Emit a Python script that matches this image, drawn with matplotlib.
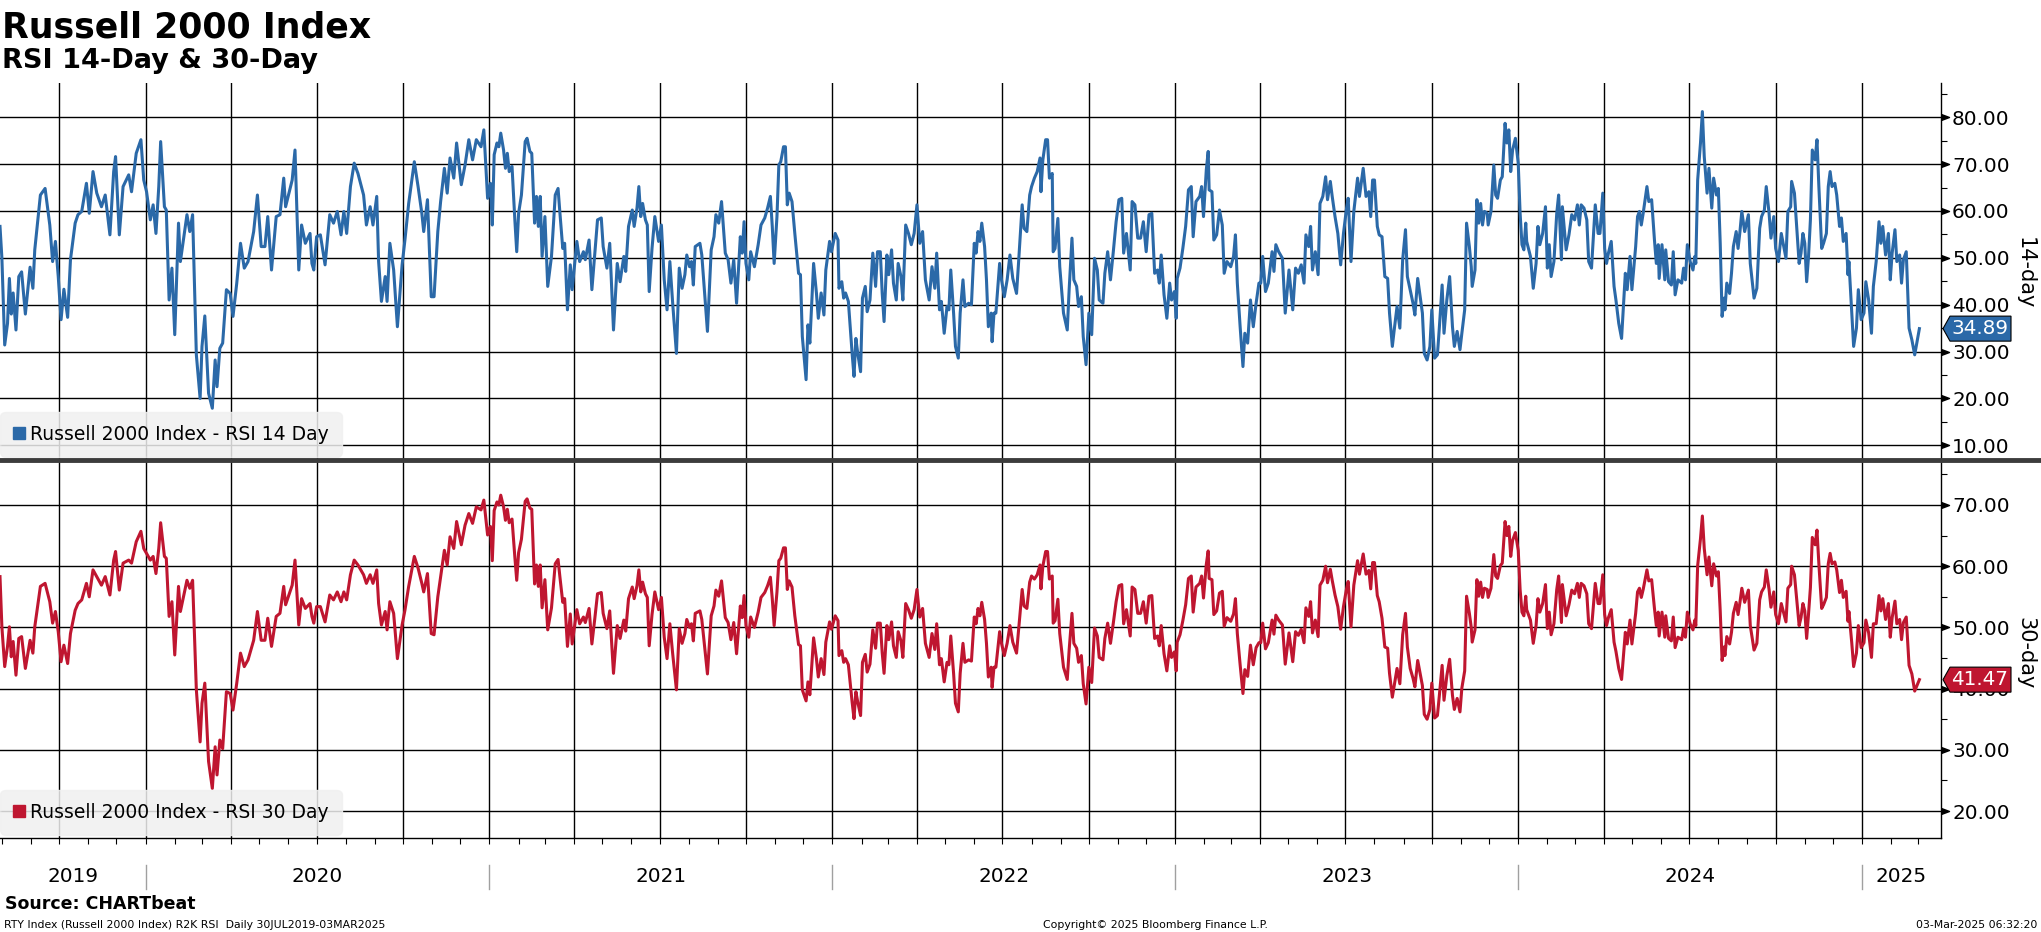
#!/usr/bin/env python3

import matplotlib
matplotlib.use("Agg")
from matplotlib import pyplot as plt
from matplotlib import dates as mdates
from matplotlib import transforms as mtrans
from matplotlib.lines import Line2D
from matplotlib.patches import Polygon
from matplotlib.ticker import MultipleLocator
import pandas as pd


W, H = 2041, 932
BLUE = "#2b69a8"
RED = "#bf1630"
START = pd.Timestamp("2019-07-30")

# (calendar days after START, RSI value)
rsi14_a = [(0, 56.7), (2, 50), (5, 31.4), (8, 36), (10, 45.6), (12, 38), (14, 42.5), (17, 34.6), (20, 46), (23, 47),
           (27, 38), (32, 48), (35, 43.5), (37, 51.7), (43, 63.4), (48, 64.8), (53, 57), (56, 49.2), (59, 53.5),
           (62, 46), (65, 36.8), (68, 43.3), (72, 37.3), (75, 49.6), (80, 57.4), (83, 59.2), (87, 59.9), (92, 65.9),
           (95, 59.5), (99, 68.4), (103, 63.8), (108, 60.9), (112, 63.4), (117, 54.9), (121, 68.4), (123, 71.6),
           (127, 54.9), (131, 65.2), (137, 67.7), (140, 64.1), (145, 72.3), (150, 75.2), (153, 66.6), (156, 64.1),
           (160, 58.1), (163, 61.3), (166, 55.2), (169, 65.2), (171, 74.8), (175, 60.9), (177, 60.2), (180, 41),
           (183, 47.8), (186, 33.6), (190, 57.4), (192, 49.2), (199, 59.2), (202, 55.6), (205, 59.2), (209, 29.3),
           (213, 20), (215, 31.1), (218, 37.6), (222, 21.1), (226, 17.9), (229, 28.2), (231, 22.5), (234, 30.7),
           (237, 31.8), (241, 43.2), (245, 42.4), (248, 37.5), (252, 44.6), (256, 53.1), (260, 47.8), (264, 49.2),
           (270, 55.6), (274, 63.4), (278, 52.4), (282, 52.4), (285, 58.8), (289, 47.4), (294, 58.8), (298, 59.2),
           (302, 67), (304, 60.9), (311, 66.6), (314, 73), (318, 47.4), (321, 57), (325, 53.1), (330, 55.2),
           (332, 48.8), (334, 47.4), (337, 54.5), (341, 54.9), (346, 48.5), (351, 59.2), (355, 57.4), (359, 59.9),
           (363, 54.9), (366, 59.9), (369, 55.2), (373, 65.2), (377, 70.2), (381, 68), (387, 63.4), (390, 57),
           (394, 60.9), (397, 57), (401, 63.1), (403, 49.2), (406, 40.7), (410, 46), (412, 40.7), (415, 53.1),
           (419, 47.4), (423, 35.3), (428, 48.5), (431, 53.8), (435, 61.6), (441, 70.5), (445, 65.2), (449, 59.5),
           (451, 55.6), (455, 62.4), (459, 41.7), (462, 41.7), (466, 55.6), (469, 62), (473, 69.1), (476, 63.8),
           (479, 71.3), (483, 67), (486, 74.5), (491, 65.6), (495, 69.8), (499, 75.2), (503, 70.9), (507, 75.2),
           (512, 73.7), (515, 77.3), (519, 62.7), (522, 65.9)]
rsi14_b = [(524, 57), (526, 72), (529, 74.5), (531, 73.7), (533, 76.6), (536, 73), (538, 69.1), (540, 72.3),
           (542, 68.4), (545, 69.5), (548, 58.1), (550, 51.3), (552, 59.5), (555, 63.4), (559, 74.8), (561, 75.5),
           (564, 72.7), (566, 72.3), (569, 57.4), (571, 63.1), (573, 56.7), (575, 63.1), (577, 50.3), (580, 58.8),
           (583, 43.9), (587, 50.3), (591, 63.4), (594, 64.8), (596, 59.5), (599, 52), (601, 53.1), (604, 38.9),
           (607, 48.5), (609, 43.2), (614, 53.5), (617, 49.2), (621, 51.3), (623, 49.6), (627, 53.8), (630, 43.2),
           (633, 50.6), (636, 58.1), (640, 58.5), (642, 52.4), (646, 47.8), (649, 53.1), (651, 43.9), (653, 34.6),
           (657, 48.8), (660, 44.9), (664, 50.3), (666, 47.1), (669, 56.7), (673, 60.2), (675, 56.7), (678, 60.6),
           (680, 65.2), (682, 58.8), (684, 61.6), (687, 58.1), (689, 57), (691, 42.8), (694, 52), (697, 58.8),
           (701, 53.5), (704, 57), (707, 45.3), (710, 38.9), (713, 49.2), (716, 40.3), (720, 29.6), (723, 47.8),
           (726, 43.5), (729, 46.4), (731, 50.6), (734, 48.1), (736, 49.2), (738, 44.2), (740, 52.4), (745, 53.1),
           (747, 50.6), (751, 39.6), (753, 34.3), (757, 51.7), (760, 54.5), (762, 59.2), (765, 57.4), (768, 62),
           (772, 51), (775, 49.6), (778, 44.6), (781, 49.6), (784, 40.3), (788, 54.5), (790, 51), (792, 57.7),
           (794, 48.8), (797, 45.3), (799, 51.3), (803, 48.1), (807, 52.8), (810, 57), (814, 58.5), (817, 60.6),
           (820, 63.1), (822, 56.7), (824, 48.8), (827, 58.8), (829, 69.8), (831, 70.5), (834, 73.7), (836, 73.7),
           (838, 61.3), (840, 63.8), (843, 62), (846, 55.2), (850, 46.7), (852, 46.4), (854, 33.2), (858, 24),
           (860, 35.7), (862, 31.8), (866, 48.8), (869, 42.5), (871, 37.1), (874, 42.5), (877, 37.8), (879, 47.4),
           (883, 53.5), (885, 51.3), (889, 55.2), (892, 53.8), (893, 43.5), (896, 44.9), (898, 41.4), (900, 42.5),
           (903, 40.7), (907, 29.6), (909, 24.7), (911, 32.8), (913, 29.6), (916, 25.7), (918, 41.4), (921, 43.9),
           (923, 38.5), (926, 41), (929, 51), (932, 43.9), (934, 51.3), (937, 51.3), (939, 42.5), (941, 36.4),
           (944, 50.6), (946, 46.4), (949, 51.7), (951, 44.6), (954, 41), (956, 48.8), (959, 46), (961, 41),
           (964, 57), (967, 55.2), (970, 52.8), (973, 55.2), (976, 61.3), (979, 53.1), (982, 55.6), (985, 45.3),
           (989, 41), (992, 48.1), (995, 43.5), (997, 51), (1000, 38.9), (1002, 40.7), (1005, 33.9), (1008, 39.6),
           (1010, 38.9), (1012, 47.4), (1015, 38.2), (1017, 31.1), (1020, 28.6), (1022, 38.2), (1025, 45.3),
           (1027, 39.6), (1031, 40.3), (1034, 40), (1037, 53.1)]
rsi14_c = [(1039, 51), (1041, 55.6), (1043, 53.5), (1045, 57.4), (1048, 52.4), (1050, 45.3), (1052, 35.3),
           (1055, 38.2), (1056, 32.1), (1058, 38.2), (1060, 38.2), (1064, 48.8), (1066, 45.3), (1069, 41.7),
           (1072, 45.3), (1075, 50.6), (1078, 45.6), (1082, 42.4), (1084, 48.5), (1088, 61.3), (1090, 56.3),
           (1093, 55.6), (1096, 63.4), (1098, 65.2), (1101, 67), (1104, 68.4), (1107, 71.3), (1108, 64.1),
           (1110, 70.9), (1113, 75.2), (1115, 75.2), (1117, 67), (1120, 68), (1121, 51.3), (1123, 52), (1126, 58.4),
           (1128, 48.1), (1132, 38.2), (1136, 34.6), (1138, 43.2), (1141, 54.2), (1143, 45.3), (1146, 43.9),
           (1148, 39.6), (1151, 41.7), (1153, 33.2), (1156, 27.2), (1159, 38.2), (1162, 33.6), (1165, 49.9),
           (1168, 47.4), (1170, 41), (1174, 40.3), (1176, 46.7), (1179, 51.3), (1182, 45.3), (1185, 51.3),
           (1188, 57.7), (1191, 62.4), (1194, 62.7), (1196, 51), (1199, 55.2), (1201, 51.3), (1203, 47.4),
           (1205, 62), (1208, 61.3), (1211, 54.2), (1214, 54.2), (1217, 57.7), (1220, 51.3), (1223, 59.2),
           (1226, 59.5), (1229, 46.7), (1232, 47.4), (1234, 44.6), (1236, 50.6), (1239, 42.1), (1242, 37.1),
           (1245, 44.6), (1247, 41), (1250, 42.8), (1252, 37.1), (1253, 45.6), (1256, 47.8), (1259, 52),
           (1262, 56.7), (1265, 64.5), (1268, 65.2), (1270, 54.5), (1273, 62), (1277, 63.1), (1279, 65.2),
           (1281, 58.8), (1284, 68.8), (1286, 72.7), (1287, 64.5), (1290, 64.1), (1292, 53.8), (1295, 54.9),
           (1298, 60.2), (1301, 57), (1303, 46.7), (1306, 49.2), (1310, 48.1), (1313, 50.3), (1315, 54.9),
           (1317, 44.6), (1320, 35.3), (1323, 26.8), (1325, 33.9), (1328, 31.8), (1331, 41), (1334, 35.3),
           (1337, 40.3), (1340, 44.6), (1342, 44.6), (1344, 50.3), (1347, 42.8), (1350, 44.6), (1354, 51.3),
           (1356, 47.1), (1358, 52.8), (1361, 51.3), (1365, 49.9), (1368, 38.2), (1372, 47.4), (1376, 38.9),
           (1379, 47.8), (1382, 46.7), (1385, 48.5), (1388, 44.6), (1390, 54.9), (1393, 52.4), (1395, 56.7),
           (1397, 47.4), (1400, 51.3), (1403, 46.4), (1405, 61.6), (1408, 63.1), (1411, 67.3), (1413, 62.4),
           (1416, 66.3), (1418, 63.1), (1421, 58.8), (1424, 55.2), (1427, 48.5), (1430, 55.2), (1433, 60.2),
           (1435, 62.7), (1438, 49.2), (1441, 59.9), (1445, 67), (1447, 63.1), (1451, 69.1), (1454, 63.1),
           (1457, 64.1), (1459, 58.8), (1461, 66.6), (1463, 66.6), (1466, 56.7), (1468, 54.9), (1471, 54.5),
           (1474, 46), (1477, 45.6), (1479, 38.2), (1482, 31.1), (1484, 34.6), (1487, 39.6), (1490, 35),
           (1493, 49.6), (1496, 56), (1498, 46), (1501, 43.2), (1504, 40.3), (1506, 37.8), (1509, 45.6),
           (1514, 38.2), (1516, 29.6), (1519, 28.2), (1522, 31.1), (1524, 38.9), (1527, 28.6), (1530, 29.3),
           (1532, 35), (1535, 44.2), (1537, 33.9), (1540, 41), (1543, 46), (1546, 35.3), (1548, 31.1),
           (1551, 34.3), (1554, 30.4)]
rsi14_d = [(1556, 33.9), (1559, 38.9), (1561, 57.4), (1564, 52.4), (1566, 48.1), (1567, 43.9), (1570, 47.4),
           (1572, 62.4), (1574, 57.4), (1576, 61.6), (1578, 57), (1580, 59.9), (1583, 59.5), (1584, 57),
           (1587, 59.9), (1590, 69.8), (1592, 63.4), (1594, 62.7), (1597, 66.6), (1599, 67.3), (1602, 78.7),
           (1604, 74.5), (1606, 77.3), (1608, 68.4), (1610, 73), (1613, 75.5), (1616, 70.2), (1618, 59.5),
           (1620, 52.8), (1622, 51.7), (1624, 57.4), (1625, 53.5), (1629, 50.3), (1632, 43.5), (1635, 48.8),
           (1637, 56.7), (1639, 52.8), (1642, 55.2), (1645, 60.9), (1647, 47.8), (1649, 52.8), (1651, 46),
           (1654, 49.2), (1657, 59.5), (1659, 63.4), (1662, 49.6), (1663, 60.9), (1667, 51.7), (1670, 54.9),
           (1673, 59.2), (1676, 58.1), (1679, 61.3), (1681, 57), (1683, 61.3), (1686, 60.6), (1689, 58.1),
           (1691, 49.2), (1694, 47.8), (1698, 61.3), (1701, 55.2), (1703, 55.2), (1706, 63.8), (1708, 52),
           (1710, 48.8), (1712, 51), (1715, 53.5), (1718, 43.9), (1720, 41), (1723, 36), (1726, 32.8),
           (1728, 39.6), (1730, 46.7), (1732, 43.2), (1735, 50.3), (1737, 43.2), (1741, 52.4), (1743, 58.8),
           (1745, 59.9), (1747, 57), (1749, 59.5), (1753, 65.2), (1755, 62), (1758, 62.4), (1761, 53.8),
           (1763, 48.8), (1765, 52.8), (1766, 45.6), (1769, 52.8), (1772, 45.3), (1773, 51.7), (1776, 44.9),
           (1779, 44.2), (1781, 51.3), (1783, 42.1), (1786, 45.3), (1790, 44.6), (1792, 47.8), (1794, 45.3),
           (1796, 52.8), (1799, 49.2), (1802, 47.4), (1804, 50.3), (1805, 48.8), (1807, 66.6), (1810, 74.5),
           (1812, 81.2), (1814, 71.6), (1817, 63.8), (1819, 69.1), (1822, 60.6), (1824, 67), (1827, 63.4),
           (1829, 64.8), (1831, 53.1), (1833, 37.5), (1835, 41.4), (1836, 38.9), (1838, 44.6), (1841, 42.4),
           (1843, 46.7), (1845, 52.4), (1848, 55.6), (1850, 52), (1852, 55.6), (1854, 59.9), (1857, 55.6),
           (1861, 59.2), (1863, 48.8), (1867, 41.4), (1870, 43.5), (1873, 56.3), (1875, 58.8), (1878, 60.2),
           (1880, 65.2), (1883, 59.5), (1885, 54.2), (1888, 58.8), (1890, 52), (1893, 49.2), (1896, 55.2),
           (1899, 52), (1901, 49.9), (1903, 59.9), (1906, 60.9), (1907, 66.3), (1910, 63.8), (1913, 54.9),
           (1915, 48.8), (1917, 51), (1919, 55.2), (1921, 53.1), (1923, 44.9), (1925, 50.3), (1927, 58.1),
           (1929, 73), (1932, 70.9), (1934, 75.2), (1936, 65.2), (1939, 52), (1941, 53.1), (1944, 55.2),
           (1946, 65.2), (1948, 68.4), (1950, 65.2), (1953, 65.9), (1955, 63.4), (1958, 56.7), (1960, 58.5),
           (1962, 53.5), (1965, 55.2), (1967, 46.4), (1968, 49.2), (1971, 38.2), (1973, 31.1), (1976, 35),
           (1978, 43.2), (1981, 36.8), (1984, 38.2), (1986, 44.9), (1989, 41), (1992, 33.9), (1994, 43.9),
           (1997, 49.2), (2000, 57.7), (2002, 53.1), (2004, 56.7), (2007, 50.6), (2010, 55.2), (2012, 45.3),
           (2014, 51), (2017, 56), (2019, 49.2), (2022, 50.6), (2024, 44.6), (2026, 49.6), (2029, 51.3),
           (2032, 35), (2035, 32.5), (2038, 29.3), (2043, 34.89)]

rsi30_a = [(0, 58.3), (2, 50.1), (5, 43.6), (8, 46.9), (10, 50.1), (12, 45.2), (14, 47.7), (17, 42.2), (20, 48.2),
           (23, 48.5), (27, 43.3), (32, 47.9), (35, 45.8), (37, 50.1), (43, 56.7), (48, 57.2), (53, 54.2), (56, 50.7),
           (59, 52.6), (62, 49.3), (65, 44.4), (68, 47.1), (72, 44.1), (75, 49), (80, 52.8), (83, 53.9), (87, 54.5),
           (92, 57.2), (95, 55), (99, 59.4), (103, 58.3), (108, 56.9), (112, 58.3), (117, 55.3), (121, 61),
           (123, 62.4), (127, 56.1), (131, 60.5), (137, 61), (140, 60.5), (145, 64), (150, 65.7), (153, 62.9),
           (156, 62.1), (160, 61), (163, 61.6), (166, 58.8), (169, 62.9), (171, 67.1), (175, 61.6), (177, 61.3),
           (180, 51.8), (183, 54.2), (186, 45.5), (190, 56.7), (192, 52.6), (199, 57.7), (202, 56.4), (205, 57.7),
           (209, 39.8), (213, 31.3), (215, 37.6), (218, 40.9), (222, 28.1), (226, 23.7), (229, 30.5), (231, 25.9),
           (234, 31.6), (237, 30.2), (241, 39.5), (245, 39.2), (248, 36.5), (252, 40.9), (256, 45.8), (260, 43.6),
           (264, 44.7), (270, 47.9), (274, 52.6), (278, 47.9), (282, 47.9), (285, 51.5), (289, 46.9), (294, 51.8),
           (298, 52.3), (302, 56.7), (304, 53.7), (311, 56.9), (314, 61), (318, 50.4), (321, 54.7), (325, 53.1),
           (330, 53.9), (332, 51.8), (334, 50.7), (337, 53.4), (341, 53.4), (346, 50.9), (351, 55.3), (355, 54.5),
           (359, 55.8), (363, 54.2), (366, 55.8), (369, 54.5), (373, 58.6), (377, 61), (381, 60.2), (387, 58.6),
           (390, 57.2), (394, 58.6), (397, 57.2), (401, 59.4), (403, 53.9), (406, 50.4), (410, 52.6), (412, 49.6),
           (415, 54.2), (419, 52.3), (423, 44.9), (428, 50.4), (431, 52.8), (435, 56.7), (441, 61.6), (445, 59.7),
           (449, 57.2), (451, 55.8), (455, 58.8), (459, 49), (462, 48.8), (466, 55), (469, 58.3), (473, 62.6),
           (476, 60.2), (479, 64.8), (483, 62.9), (486, 67.3), (491, 63.5), (495, 66.7), (499, 68.6), (503, 67),
           (507, 69.7), (512, 69.2), (515, 70.8), (519, 65.1), (522, 66.5)]
rsi30_b = [(524, 60.9), (526, 69.1), (529, 70.5), (531, 70), (533, 71.6), (536, 69.7), (538, 67.5), (540, 69.3),
           (542, 67.1), (545, 67.7), (548, 61.5), (550, 57.7), (552, 62.2), (555, 64.4), (559, 70.6), (561, 71),
           (564, 69.5), (566, 69.3), (569, 57.1), (571, 60.2), (573, 56.7), (575, 60.2), (577, 53.2), (580, 57.8),
           (583, 49.6), (587, 53.2), (591, 60.4), (594, 61.1), (596, 58.2), (599, 54.1), (601, 54.7), (604, 46.9),
           (607, 52.2), (609, 47.3), (614, 52.9), (617, 50.6), (621, 51.7), (623, 50.8), (627, 53.1), (630, 47.3),
           (633, 51.3), (636, 55.5), (640, 55.7), (642, 52.3), (646, 49.8), (649, 52.7), (651, 47.6), (653, 42.5),
           (657, 50.3), (660, 48.2), (664, 51.2), (666, 49.4), (669, 54.7), (673, 56.6), (675, 54.7), (678, 56.8),
           (680, 59.4), (682, 55.8), (684, 57.4), (687, 55.5), (689, 54.9), (691, 47), (694, 52.1), (697, 55.8),
           (701, 52.9), (704, 54.9), (707, 48.4), (710, 44.9), (713, 50.6), (716, 45.7), (720, 39.8), (723, 49.8),
           (726, 47.4), (729, 49), (731, 51.3), (734, 50), (736, 50.6), (738, 47.8), (740, 52.3), (745, 52.7),
           (747, 51.3), (751, 45.3), (753, 42.4), (757, 51.9), (760, 53.5), (762, 56.1), (765, 55.1), (768, 57.6),
           (772, 51.6), (775, 50.8), (778, 48), (781, 50.8), (784, 45.7), (788, 53.5), (790, 51.6), (792, 55.2),
           (794, 50.3), (797, 48.4), (799, 51.7), (803, 50), (807, 52.5), (810, 54.9), (814, 55.7), (817, 56.8),
           (820, 58.2), (822, 54.7), (824, 50.3), (827, 55.8), (829, 60.9), (831, 61.3), (834, 63), (836, 63),
           (838, 56.2), (840, 57.6), (843, 56.6), (846, 51.9), (850, 47.2), (852, 47), (854, 39.8), (858, 38),
           (860, 41.1), (862, 39), (866, 48.3), (869, 44.9), (871, 41.9), (874, 44.9), (877, 42.3), (879, 47.6),
           (883, 50.9), (885, 49.7), (889, 51.9), (892, 51.1), (893, 45.4), (896, 46.2), (898, 44.3), (900, 44.9),
           (903, 43.9), (907, 37.8), (909, 35.1), (911, 39.5), (913, 37.8), (916, 35.6), (918, 44.3), (921, 45.6),
           (923, 42.7), (926, 44), (929, 49.6), (932, 46.6), (934, 50.7), (937, 50.7), (939, 45.9), (941, 42.5),
           (944, 50.3), (946, 48), (949, 50.9), (951, 47), (954, 45.1), (956, 49.3), (959, 47.8), (961, 45.1),
           (964, 53.9), (967, 52.9), (970, 51.5), (973, 52.9), (976, 56.2), (979, 51.7), (982, 53.1), (985, 47.4),
           (989, 45.1), (992, 49), (995, 46.4), (997, 50.6), (1000, 43.9), (1002, 44.9), (1005, 41.1), (1008, 44.3),
           (1010, 43.9), (1012, 48.6), (1015, 42.5), (1017, 37.6), (1020, 36.2), (1022, 42.5), (1025, 47.4),
           (1027, 44.3), (1031, 44.7), (1034, 44.5), (1037, 51.7)]
rsi30_c = [(1039, 50.6), (1041, 53.1), (1043, 51.9), (1045, 54.1), (1048, 51.3), (1050, 47.4), (1052, 41.9),
           (1055, 43.5), (1056, 40.2), (1058, 43.5), (1060, 43.5), (1064, 49.3), (1066, 47.4), (1069, 45.4),
           (1072, 47.4), (1075, 50.3), (1078, 47.6), (1082, 45.8), (1084, 49.2), (1088, 56.2), (1090, 53.5),
           (1093, 53.1), (1096, 57.4), (1098, 58.4), (1101, 57.9), (1104, 58.6), (1107, 60.2), (1108, 56.3),
           (1110, 60), (1113, 62.4), (1115, 62.4), (1117, 57.9), (1120, 58.4), (1121, 50.7), (1123, 51.1),
           (1126, 54.6), (1128, 49), (1132, 43.5), (1136, 41.5), (1138, 46.3), (1141, 52.3), (1143, 47.4),
           (1146, 46.6), (1148, 44.3), (1151, 45.4), (1153, 40.8), (1156, 37.5), (1159, 43.5), (1162, 41),
           (1165, 49.9), (1168, 48.6), (1170, 45.1), (1174, 44.7), (1176, 48.2), (1179, 50.7), (1182, 47.4),
           (1185, 50.7), (1188, 54.2), (1191, 56.8), (1194, 57), (1196, 50.6), (1199, 52.9), (1201, 50.7),
           (1203, 48.6), (1205, 56.6), (1208, 56.2), (1211, 52.3), (1214, 52.3), (1217, 54.2), (1220, 50.7),
           (1223, 55.1), (1226, 55.2), (1229, 48.2), (1232, 48.6), (1234, 47), (1236, 50.3), (1239, 45.7),
           (1242, 42.9), (1245, 47), (1247, 45.1), (1250, 46), (1252, 42.9), (1253, 47.6), (1256, 48.8),
           (1259, 51.1), (1262, 53.7), (1265, 58), (1268, 58.4), (1270, 52.5), (1273, 56.6), (1277, 57.2),
           (1279, 58.4), (1281, 54.8), (1284, 60.3), (1286, 62.5), (1287, 58), (1290, 57.8), (1292, 52.1),
           (1295, 52.7), (1298, 55.6), (1301, 55.9), (1303, 50.2), (1306, 51.6), (1310, 51), (1313, 52.2),
           (1315, 54.7), (1317, 49), (1320, 43.9), (1323, 39.2), (1325, 43.1), (1328, 42), (1331, 47.1),
           (1334, 43.9), (1337, 46.7), (1340, 47.5), (1342, 47.5), (1344, 50.7), (1347, 46.5), (1350, 47.5),
           (1354, 51.2), (1356, 48.9), (1358, 52), (1361, 51.2), (1365, 50.4), (1368, 44), (1372, 49.1),
           (1376, 44.4), (1379, 49.3), (1382, 48.7), (1385, 49.7), (1388, 47.5), (1390, 53.2), (1393, 51.8),
           (1395, 54.2), (1397, 49.1), (1400, 51.2), (1403, 48.5), (1405, 56.9), (1408, 57.7), (1411, 60),
           (1413, 57.3), (1416, 59.5), (1418, 57.7), (1421, 55.3), (1424, 53.4), (1427, 49.7), (1430, 53.4),
           (1433, 56.1), (1435, 57.5), (1438, 50.1), (1441, 56.9), (1445, 60.9), (1447, 58.7), (1451, 62),
           (1454, 58.7), (1457, 59.3), (1459, 56.3), (1461, 60.6), (1463, 60.6), (1466, 55.2), (1468, 54.2),
           (1471, 51.5), (1474, 46.8), (1477, 46.6), (1479, 42.5), (1482, 38.6), (1484, 40.5), (1487, 43.3),
           (1490, 40.8), (1493, 48.8), (1496, 52.3), (1498, 46.8), (1501, 43.3), (1504, 41.7), (1506, 40.3),
           (1509, 44.6), (1514, 40.5), (1516, 35.8), (1519, 35), (1522, 36.6), (1524, 40.9), (1527, 35.2),
           (1530, 35.6), (1532, 38.8), (1535, 43.8), (1537, 38.1), (1540, 42.1), (1543, 44.8), (1546, 38.9),
           (1548, 36.6), (1551, 38.4), (1554, 36.2)]
rsi30_d = [(1556, 40.1), (1559, 42.9), (1561, 55.1), (1564, 52.3), (1566, 50), (1567, 47.6), (1570, 49.6),
           (1572, 57.8), (1574, 55.1), (1576, 57.4), (1578, 54.9), (1580, 56.4), (1583, 56.2), (1584, 54.9),
           (1587, 56.4), (1590, 61.9), (1592, 58.4), (1594, 58), (1597, 60.1), (1599, 60.5), (1602, 67.3),
           (1604, 65), (1606, 66.5), (1608, 61.6), (1610, 64.2), (1613, 65.5), (1616, 62.6), (1618, 56.2),
           (1620, 52.5), (1622, 51.9), (1624, 55.1), (1625, 52.9), (1629, 51.2), (1632, 47.4), (1635, 50.3),
           (1637, 54.7), (1639, 52.5), (1642, 53.9), (1645, 57), (1647, 49.8), (1649, 52.5), (1651, 48.8),
           (1654, 50.6), (1657, 56.2), (1659, 58.4), (1662, 50.8), (1663, 57), (1667, 51.9), (1670, 53.7),
           (1673, 56.1), (1676, 55.5), (1679, 57.2), (1681, 54.9), (1683, 57.2), (1686, 56.8), (1689, 55.5),
           (1691, 50.6), (1694, 49.8), (1698, 57.2), (1701, 53.9), (1703, 53.9), (1706, 58.6), (1708, 52.1),
           (1710, 50.3), (1712, 51.6), (1715, 52.9), (1718, 47.6), (1720, 46.1), (1723, 43.3), (1726, 41.5),
           (1728, 45.3), (1730, 49.2), (1732, 47.3), (1735, 51.2), (1737, 47.3), (1741, 52.3), (1743, 55.8),
           (1745, 56.4), (1747, 54.9), (1749, 56.2), (1753, 59.4), (1755, 57.6), (1758, 57.8), (1761, 53.1),
           (1763, 50.3), (1765, 52.5), (1766, 48.6), (1769, 52.5), (1772, 48.4), (1773, 51.9), (1776, 48.2),
           (1779, 47.8), (1781, 51.7), (1783, 46.7), (1786, 48.4), (1790, 48), (1792, 49.8), (1794, 48.4),
           (1796, 52.5), (1799, 50.6), (1802, 49.6), (1804, 51.2), (1805, 50.3), (1807, 60.1), (1810, 64.5),
           (1812, 68.2), (1814, 62.9), (1817, 58.6), (1819, 61.5), (1822, 56.8), (1824, 60.4), (1827, 58.4),
           (1829, 59.1), (1831, 52.7), (1833, 44.6), (1835, 46.8), (1836, 45.4), (1838, 48.5), (1841, 47.3),
           (1843, 49.2), (1845, 52.3), (1848, 54.1), (1850, 52.1), (1852, 54.1), (1854, 56.4), (1857, 54.1),
           (1861, 56.1), (1863, 50.3), (1867, 46.3), (1870, 47.4), (1873, 54.5), (1875, 55.8), (1878, 56.6),
           (1880, 59.4), (1883, 56.2), (1885, 53.3), (1888, 55.8), (1890, 52.1), (1893, 50.6), (1896, 53.9),
           (1899, 52.1), (1901, 50.9), (1903, 56.4), (1906, 57), (1907, 60), (1910, 58.6), (1913, 53.7),
           (1915, 50.3), (1917, 51.6), (1919, 53.9), (1921, 52.7), (1923, 48.2), (1925, 52.2), (1927, 56.5),
           (1929, 64.7), (1932, 63.5), (1934, 65.9), (1936, 60.4), (1939, 53.1), (1941, 53.7), (1944, 54.9),
           (1946, 60.4), (1948, 62.1), (1950, 60.4), (1953, 60.7), (1955, 59.4), (1958, 55.7), (1960, 57.7),
           (1962, 54.9), (1965, 55.9), (1967, 51), (1968, 52.6), (1971, 47.5), (1973, 43.6), (1976, 45.8),
           (1978, 50.3), (1981, 46.7), (1984, 47.5), (1986, 51.2), (1989, 49.1), (1992, 45.1), (1994, 50.6),
           (1997, 50.6), (2000, 55.2), (2002, 52.7), (2004, 54.7), (2007, 51.3), (2010, 53.9), (2012, 48.4),
           (2014, 51.6), (2017, 54.3), (2019, 50.6), (2022, 51.3), (2024, 48), (2026, 50.8), (2029, 51.7),
           (2032, 43.8), (2035, 42.4), (2038, 39.6), (2043, 41.47)]

last14 = 34.89
last30 = 41.47
years = [2019, 2020, 2021, 2022, 2023, 2024, 2025]
ticks14 = [10, 20, 30, 40, 50, 60, 70, 80]
ticks30 = [20, 30, 40, 50, 60, 70]


def fx(x):
    return x / W


def fy(y):
    return 1 - y / H


def to_dates(pairs):
    days = [d for d, _ in pairs]
    vals = [v for _, v in pairs]
    return START + pd.to_timedelta(days, unit="D"), vals


def style_panel(ax, ticks, ylim):
    ax.set_xlim(START, START + pd.Timedelta(days=2066))
    ax.set_ylim(*ylim)
    ax.yaxis.tick_right()
    ax.set_yticks(ticks)
    ax.set_yticklabels([f"{t:.2f}" for t in ticks])
    ax.yaxis.set_minor_locator(MultipleLocator(5))
    ax.tick_params(axis="y", which="major", length=0, pad=8, labelsize=14.4)
    ax.tick_params(axis="y", which="minor", length=4, width=0.8,
                   direction="out")
    for s in ["top", "left"]:
        ax.spines[s].set_visible(False)
    ax.spines["right"].set_linewidth(1.0)
    ax.grid(axis="y", which="major", color="black", lw=1.0, zorder=0)
    for q in pd.date_range("2019-10-01", "2025-01-01", freq="QS"):
        ax.axvline(q, color="black", lw=1.0, zorder=0)
    # small pointers at the right axis
    tr = mtrans.blended_transform_factory(ax.transAxes, ax.transData)
    for t in ticks:
        ax.plot([1.0], [t], marker=[(0, -0.6), (1.6, 0), (0, 0.6)],
                ms=11.5, color="black", transform=tr, clip_on=False)


def value_tag(fig, ax, value, color):
    x0 = ax.transAxes.transform((1, 0))[0]
    y = ax.transData.transform((0, value))[1]
    inv = fig.transFigure.inverted()
    pts = [(x0 + 2, y), (x0 + 9, y + 12.5), (x0 + 70, y + 12.5),
           (x0 + 70, y - 12.5), (x0 + 9, y - 12.5)]
    poly = Polygon(inv.transform(pts), closed=True, transform=fig.transFigure,
                   facecolor=color, edgecolor="black", lw=0.8, zorder=10)
    fig.add_artist(poly)
    tx, ty = inv.transform((x0 + 39, y))
    fig.text(tx, ty, f"{value:.2f}", color="white", fontsize=14.4,
             ha="center", va="center", zorder=11)


def add_legend(ax, color, label):
    h = Line2D([], [], marker="s", ls="none", color=color, ms=8.6)
    leg = ax.legend([h], [label], loc="lower left",
                    bbox_to_anchor=(0.0, 0.008), borderaxespad=0,
                    fontsize=13.5, borderpad=0.7, handlelength=0.6,
                    handletextpad=0.3, fancybox=True, framealpha=0.85,
                    facecolor="#f0f0f0", edgecolor="#f0f0f0")
    leg.get_frame().set_boxstyle("round", pad=0, rounding_size=0.3)


def main():
    fig = plt.figure(figsize=(W / 100, H / 100), dpi=100)

    ax1 = fig.add_axes([0, fy(460), fx(1941), (460 - 83) / H])
    ax2 = fig.add_axes([0, fy(838), fx(1941), (838 - 460) / H])

    style_panel(ax1, ticks14, (6.86, 87.3))
    style_panel(ax2, ticks30, (15.6, 77.35))

    d14, v14 = to_dates(rsi14_a + rsi14_b + rsi14_c + rsi14_d)
    d30, v30 = to_dates(rsi30_a + rsi30_b + rsi30_c + rsi30_d)
    ax1.plot(d14, v14, color=BLUE, lw=2.2, zorder=3, solid_joinstyle="round")
    ax2.plot(d30, v30, color=RED, lw=2.2, zorder=3, solid_joinstyle="round")

    ax1.spines["bottom"].set_visible(False)
    ax1.tick_params(axis="x", which="both", bottom=False, labelbottom=False)

    ax2.spines["bottom"].set_linewidth(1.0)
    ax2.xaxis.set_major_locator(mdates.MonthLocator())
    ax2.xaxis.set_major_formatter(plt.NullFormatter())
    ax2.tick_params(axis="x", which="major", length=4, width=0.8,
                    direction="out")

    add_legend(ax1, BLUE, "Russell 2000 Index - RSI 14 Day")
    add_legend(ax2, RED, "Russell 2000 Index - RSI 30 Day")

    value_tag(fig, ax1, last14, BLUE)
    value_tag(fig, ax2, last30, RED)

    fig.text(fx(2025), fy(273), "14-day", rotation=270, ha="center",
             va="center", fontsize=15)
    fig.text(fx(2025), fy(653), "30-day", rotation=270, ha="center",
             va="center", fontsize=15)

    # year labels under the time axis
    x_lo, x_hi = ax2.get_xlim()
    tr = mtrans.blended_transform_factory(ax2.transData, ax2.transAxes)
    y_lab = -(877 - 838) / (838 - 460)
    y_s0 = -(865 - 838) / (838 - 460)
    y_s1 = -(889 - 838) / (838 - 460)
    for yr in years:
        a = max(mdates.date2num(pd.Timestamp(f"{yr}-01-01")), x_lo)
        b = min(mdates.date2num(pd.Timestamp(f"{yr + 1}-01-01")), x_hi)
        ax2.text((a + b) / 2, y_lab, str(yr), transform=tr, ha="center",
                 va="center", fontsize=14.4)
        if yr > years[0]:
            ax2.plot([a, a], [y_s0, y_s1], color="#a0a0a0", lw=1.0,
                     transform=tr, clip_on=False)

    # divider between the panels
    fig.add_artist(Line2D([0, 1], [fy(460), fy(460)], transform=fig.transFigure,
                          color="#3c3c3c", lw=3.5))

    fig.text(fx(2), fy(37), "Russell 2000 Index", fontsize=25,
             fontweight="bold", va="baseline")
    fig.text(fx(2), fy(68), "RSI 14-Day & 30-Day", fontsize=19.5,
             fontweight="bold", va="baseline")
    fig.text(fx(5), fy(909), "Source: CHARTbeat", fontsize=12.5,
             fontweight="bold", va="baseline")
    fig.text(fx(4), fy(928), "RTY Index (Russell 2000 Index) R2K RSI  Daily "
             "30JUL2019-03MAR2025", fontsize=7.8, va="baseline")
    fig.text(fx(1043), fy(928), "Copyright\u00a9 2025 Bloomberg Finance L.P.",
             fontsize=7.8, va="baseline")
    fig.text(fx(2037), fy(928), "03-Mar-2025 06:32:20", fontsize=7.8,
             va="baseline", ha="right")

    fig.savefig("out.png", dpi=100)


if __name__ == "__main__":
    main()
